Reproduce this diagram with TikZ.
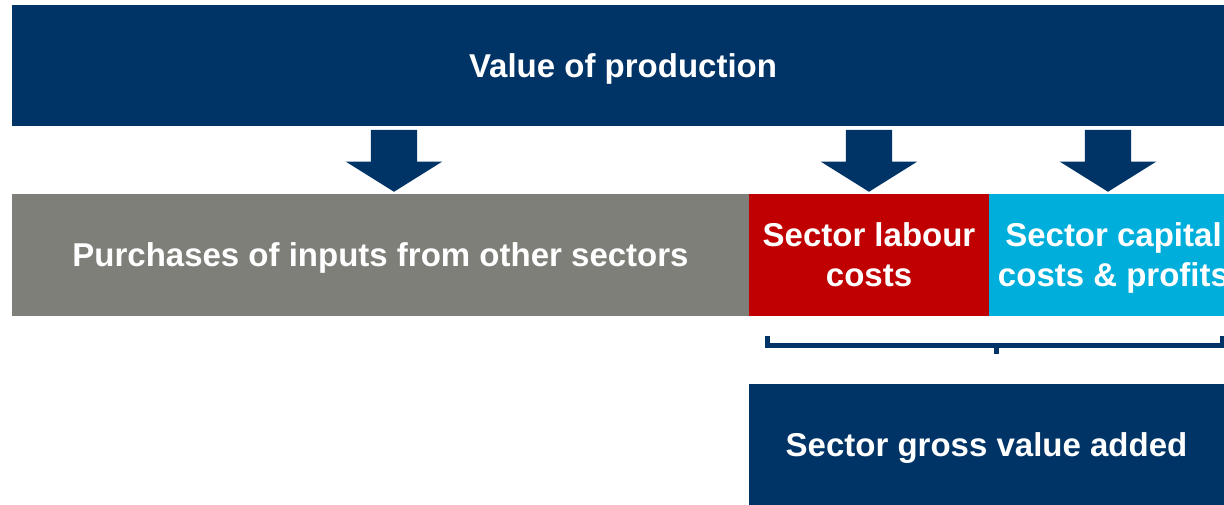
\documentclass[tikz,border=0pt]{standalone}
\usepackage{fontspec}
\setmainfont{Liberation Sans}
\usetikzlibrary{shapes.arrows}

\definecolor{navy}{RGB}{0,51,102}
\definecolor{stone}{RGB}{127,127,121}
\definecolor{crimson}{RGB}{192,0,0}
\definecolor{sky}{RGB}{0,174,219}

\tikzset{
    block/.style={rectangle, inner xsep=0pt, minimum height=121pt, align=center,
        text depth=0pt, text=white, font=\fontsize{33}{40}\selectfont\bfseries},
    downarrow/.style={single arrow, fill=navy, draw=none, shape border rotate=270,
        inner sep=23pt, minimum height=62pt, single arrow head extend=25pt,
        single arrow tip angle=116, anchor=tip},
}

\begin{document}
\begin{tikzpicture}[x=1pt, y=-1pt]

    \useasboundingbox (0, 0) rectangle (1224, 505);

    % Declare the boxes
    \node[block, fill=navy, minimum width=1212pt] at (618, 65.5) (prod) {\hspace{10pt}Value of production};
    \node[block, fill=stone, minimum width=737pt] at (380.5, 255) (inputs) {Purchases of inputs from other sectors};
    \node[block, fill=crimson, minimum width=240pt] at (869, 255) (labour) {Sector labour\\costs};
    \node[block, fill=sky, minimum width=235pt] at (1106.5, 255) (capital)
        {\makebox[200pt]{\hspace{14pt}Sector capital}\\\makebox[200pt]{\hspace{14pt}costs \& profits}};
    \node[block, fill=navy, minimum width=475pt] at (986.5, 444.5) (gva) {Sector gross value added};

    % Declare the arrows
    \node[downarrow] at (394, 192) (arrA) {};
    \node[downarrow] at (869, 192) (arrB) {};
    \node[downarrow] at (1108, 192) (arrC) {};

    % Declare the brace
    \coordinate (braceL) at (767, 336);
    \coordinate (braceR) at (1222, 336);
    \coordinate (braceM) at (996, 354);
    \draw[navy, line width=5pt] (braceL) -- ++(0, 9) -| (braceR);
    \draw[navy, line width=5pt] (braceM |- 0, 345) -- (braceM);

\end{tikzpicture}
\end{document}
